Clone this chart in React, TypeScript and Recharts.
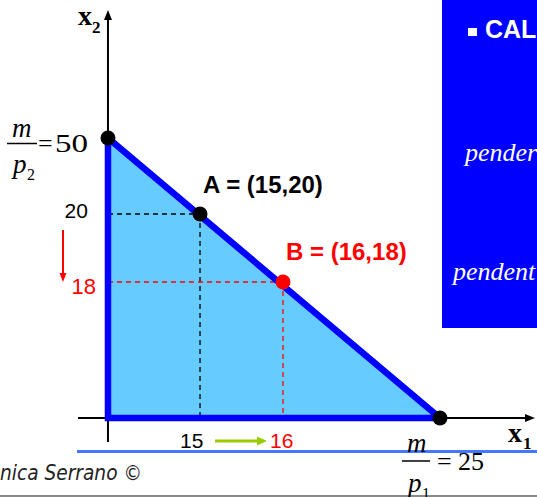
import React from "react";
import {
  ComposedChart,
  XAxis,
  YAxis,
  Area,
  Line,
  Scatter,
  ReferenceLine,
} from "recharts";

// budget set: m/p2 = 50, m/p1 = 25
const budgetLine = [
  { x: 0, y: 50 },
  { x: 25, y: 0 },
];
const budgetOutline = [
  { x: 0, y: 0 },
  { x: 0, y: 50 },
  { x: 25, y: 0 },
  { x: 0, y: 0 },
];
const intercepts = [
  { x: 0, y: 50 },
  { x: 25, y: 0 },
];
const bundleA = [{ x: 15, y: 20 }];
const bundleB = [{ x: 16, y: 18 }];
const xTickValues = [15, 16];
const yTickValues = [20, 18];

const BLUE = "#0000ff";
const FILL = "#66ccff";
const RED = "#ff0000";
const GREEN = "#99cc00";
const SANS = "'Liberation Sans', Arial, sans-serif";
const SERIF = "'Liberation Serif', 'Times New Roman', serif";

// the slide is schematic (not to scale): value -> share of the axis length
const xKnots: [number, number][] = [[0, 0.0656], [15, 0.267], [16, 0.4486], [25, 0.7921]];
const yKnots: [number, number][] = [[0, 0.0556], [18, 0.3704], [20, 0.5278], [50, 0.7037]];

function schematicScale(knots: [number, number][]): any {
  let dom: any[] = [0, 1];
  let rng: number[] = [0, 1];
  const share = (v: number) => {
    let i = 0;
    while (i < knots.length - 2 && v > knots[i + 1][0]) i++;
    const [v0, f0] = knots[i];
    const [v1, f1] = knots[i + 1];
    return f0 + ((v - v0) / (v1 - v0)) * (f1 - f0);
  };
  const s: any = (v: any) => rng[0] + share(Number(v)) * (rng[rng.length - 1] - rng[0]);
  s.domain = (d?: any[]) => (d === undefined ? dom : ((dom = d), s));
  s.range = (r?: number[]) => (r === undefined ? rng : ((rng = r), s));
  s.copy = () => schematicScale(knots).domain(dom).range(rng);
  s.ticks = () => knots.map((k) => k[0]);
  return s;
}

const xScale = schematicScale(xKnots);
const yScale = schematicScale(yKnots);

const dot = (color: string) => (p: any) => (
  <circle cx={p.cx} cy={p.cy} r={7.5} fill={color} />
);

const YAxisShape = (p: any) => {
  const top = Math.min(p.y1, p.y2);
  const bottom = Math.max(p.y1, p.y2);
  return (
    <g>
      <line x1={p.x1} x2={p.x1} y1={top + 6} y2={bottom} stroke="#000" strokeWidth={2} />
      <path d={`M${p.x1},${top} L${p.x1 - 4},${top + 10} L${p.x1 + 4},${top + 10} Z`} fill="#000" />
      <text x={p.x1 - 30} y={top + 15} fontFamily={SERIF} fontWeight="bold" fontSize={28}>
        x
      </text>
      <text x={p.x1 - 16} y={top + 23} fontFamily={SERIF} fontWeight="bold" fontSize={17}>
        2
      </text>
    </g>
  );
};

const XAxisShape = (p: any) => {
  const left = Math.min(p.x1, p.x2);
  const right = Math.max(p.x1, p.x2);
  return (
    <g>
      <line x1={left} x2={right - 6} y1={p.y1} y2={p.y1} stroke="#000" strokeWidth={2} />
      <path d={`M${right},${p.y1} L${right - 10},${p.y1 - 4} L${right - 10},${p.y1 + 4} Z`} fill="#000" />
      <text x={right - 27} y={p.y1 + 24} fontFamily={SERIF} fontWeight="bold" fontSize={28}>
        x
      </text>
      <text x={right - 12} y={p.y1 + 31} fontFamily={SERIF} fontWeight="bold" fontSize={17}>
        1
      </text>
    </g>
  );
};

const BundleShape = (name: string, color: string, dy: number) => (p: any) => (
  <g>
    <circle cx={p.cx} cy={p.cy} r={7.5} fill={color} />
    <text x={p.cx + 3} y={p.cy + dy} fontFamily={SANS} fontWeight="bold" fontSize={24} fill={color}>
      {`${name} = (${p.payload.x},${p.payload.y})`}
    </text>
  </g>
);

const YTickShape = (p: any) => {
  const v = p.payload.y;
  const isNew = v === bundleB[0].y;
  return (
    <g>
      <text
        x={p.cx - (isNew ? 12 : 20)}
        y={p.cy + (isNew ? 12 : 4)}
        textAnchor="end"
        fontFamily={SANS}
        fontSize={isNew ? 22 : 21}
        fill={isNew ? RED : "#000"}
      >
        {v}
      </text>
      {isNew && (
        <g>
          <line x1={p.cx - 45} x2={p.cx - 45} y1={p.cy - 52} y2={p.cy - 7} stroke={RED} strokeWidth={2} />
          <path d={`M${p.cx - 45},${p.cy} L${p.cx - 48.5},${p.cy - 9} L${p.cx - 41.5},${p.cy - 9} Z`} fill={RED} />
        </g>
      )}
    </g>
  );
};

const XTickShape = (p: any) => {
  const v = p.payload.x;
  const isNew = v === bundleB[0].x;
  return (
    <g>
      <text x={p.cx - (isNew ? 13 : 20)} y={p.cy + 30} fontFamily={SANS} fontSize={21} fill={isNew ? RED : "#000"}>
        {v}
      </text>
      {isNew && (
        <g>
          <line x1={p.cx - 68} x2={p.cx - 24} y1={p.cy + 23} y2={p.cy + 23} stroke={GREEN} strokeWidth={3} />
          <path d={`M${p.cx - 16},${p.cy + 23} L${p.cx - 26},${p.cy + 18.5} L${p.cx - 26},${p.cy + 27.5} Z`} fill={GREEN} />
        </g>
      )}
    </g>
  );
};

const InterceptLabel = (p: any) => {
  const { cx, cy } = p;
  if (p.payload.x === 0) {
    return (
      <g fontFamily={SERIF} fill="#000">
        <text x={cx - 96} y={cy - 1} fontStyle="italic" fontSize={27}>m</text>
        <line x1={cx - 101} x2={cx - 71} y1={cy + 5.5} y2={cy + 5.5} stroke="#000" strokeWidth={1.5} />
        <text x={cx - 95} y={cy + 35} fontStyle="italic" fontSize={27}>p</text>
        <text x={cx - 81} y={cy + 42} fontSize={16}>2</text>
        <text x={cx - 70} y={cy + 14} fontSize={26}>=</text>
        <text x={cx - 53} y={cy + 14} fontSize={26} textLength={33} lengthAdjust="spacingAndGlyphs">
          {p.payload.y}
        </text>
      </g>
    );
  }
  return (
    <g fontFamily={SERIF} fill="#000">
      <text x={cx - 33} y={cy + 34} fontStyle="italic" fontSize={27}>m</text>
      <line x1={cx - 38} x2={cx - 10} y1={cy + 43} y2={cy + 43} stroke="#000" strokeWidth={1.5} />
      <text x={cx - 32} y={cy + 74} fontStyle="italic" fontSize={27}>p</text>
      <text x={cx - 18} y={cy + 81} fontSize={16}>1</text>
      <text x={cx - 3} y={cy + 52} fontSize={26}>=</text>
      <text x={cx + 18} y={cy + 52} fontSize={26}>{p.payload.x}</text>
    </g>
  );
};

export default function App() {
  return (
    <div
      style={{
        position: "absolute",
        left: 0,
        top: 0,
        width: 537,
        height: 497,
        overflow: "hidden",
        background: "#fff",
      }}
    >
      {/* slide footer */}
      <div style={{ position: "absolute", left: 77, top: 450, width: 460, height: 3, background: "#4477ff" }} />
      <div style={{ position: "absolute", left: 0, top: 495, width: 537, height: 1.5, background: "#8a8a8a" }} />
      <svg style={{ position: "absolute", left: 0, top: 0 }} width={537} height={497}>
        <text
          x={0}
          y={480}
          fontFamily="'DejaVu Sans', sans-serif"
          fontStyle="italic"
          fontSize={21}
          fill="#222"
          textLength={142}
          lengthAdjust="spacingAndGlyphs"
        >
          nica Serrano ©
        </text>
      </svg>

      <div style={{ position: "absolute", left: 0, top: 0 }}>
        <ComposedChart width={537} height={497} margin={{ top: 10, right: 2, bottom: 55, left: 78 }}>
          <XAxis dataKey="x" type="number" domain={[0, 25]} scale={xScale} hide />
          <YAxis dataKey="y" type="number" domain={[0, 50]} scale={yScale} hide />

          <ReferenceLine x={0} ifOverflow="visible" shape={YAxisShape} />
          <ReferenceLine y={0} ifOverflow="visible" shape={XAxisShape} />

          <Area
            data={budgetLine}
            dataKey="y"
            type="linear"
            baseValue={0}
            fill={FILL}
            fillOpacity={1}
            stroke="none"
            isAnimationActive={false}
          />

          <ReferenceLine
            segment={[{ x: 0, y: bundleA[0].y }, { x: bundleA[0].x, y: bundleA[0].y }]}
            stroke="#000"
            strokeDasharray="5 4"
            strokeWidth={1.3}
            ifOverflow="visible"
          />
          <ReferenceLine
            segment={[{ x: bundleA[0].x, y: bundleA[0].y }, { x: bundleA[0].x, y: 0 }]}
            stroke="#000"
            strokeDasharray="5 4"
            strokeWidth={1.3}
            ifOverflow="visible"
          />
          <ReferenceLine
            segment={[{ x: 0, y: bundleB[0].y }, { x: bundleB[0].x, y: bundleB[0].y }]}
            stroke={RED}
            strokeDasharray="5 4"
            strokeWidth={1.3}
            ifOverflow="visible"
          />
          <ReferenceLine
            segment={[{ x: bundleB[0].x, y: bundleB[0].y }, { x: bundleB[0].x, y: 0 }]}
            stroke={RED}
            strokeDasharray="5 4"
            strokeWidth={1.3}
            ifOverflow="visible"
          />

          <Line
            data={budgetOutline}
            dataKey="y"
            type="linear"
            stroke={BLUE}
            strokeWidth={6.5}
            strokeLinejoin="round"
            strokeLinecap="square"
            dot={false}
            activeDot={false}
            isAnimationActive={false}
          />

          <Scatter data={intercepts} shape={dot("#000")} isAnimationActive={false} />
          <Scatter data={intercepts} shape={InterceptLabel} isAnimationActive={false} />
          <Scatter data={bundleA} shape={BundleShape("A", "#000", -21)} isAnimationActive={false} />
          <Scatter data={bundleB} shape={BundleShape("B", RED, -22)} isAnimationActive={false} />
          <Scatter data={yTickValues.map((v) => ({ x: 0, y: v }))} shape={YTickShape} isAnimationActive={false} />
          <Scatter data={xTickValues.map((v) => ({ x: v, y: 0 }))} shape={XTickShape} isAnimationActive={false} />
        </ComposedChart>
      </div>

      {/* blue text panel at the right edge of the slide */}
      <div style={{ position: "absolute", left: 442, top: 0, width: 95, height: 328, background: BLUE, overflow: "hidden" }}>
        <div style={{ position: "absolute", left: 26, top: 28, width: 9, height: 8, background: "#fff" }} />
        <div
          style={{
            position: "absolute",
            left: 43,
            top: 14,
            color: "#fff",
            fontFamily: SANS,
            fontWeight: "bold",
            fontSize: 25,
            whiteSpace: "nowrap",
            lineHeight: "30px",
          }}
        >
          CAL
        </div>
        <div
          style={{
            position: "absolute",
            left: 23,
            top: 138,
            color: "#fff",
            fontFamily: SERIF,
            fontStyle: "italic",
            fontSize: 26,
            whiteSpace: "nowrap",
            lineHeight: "30px",
          }}
        >
          pender
        </div>
        <div
          style={{
            position: "absolute",
            left: 11,
            top: 257,
            color: "#fff",
            fontFamily: SERIF,
            fontStyle: "italic",
            fontSize: 26,
            whiteSpace: "nowrap",
            lineHeight: "30px",
          }}
        >
          pendent
        </div>
      </div>
    </div>
  );
}
